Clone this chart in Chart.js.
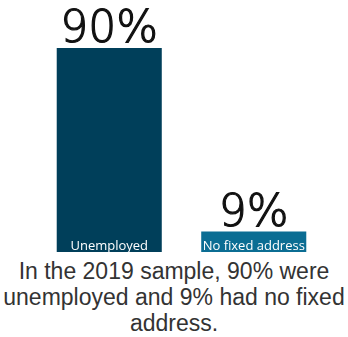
<!DOCTYPE html>
<html>
<head>
<meta charset="utf-8">
<script src="https://cdn.jsdelivr.net/npm/chart.js@4"></script>
<style>
    html, body { margin: 0; padding: 0; background: #fff; }
    #wrap { width: 348px; height: 255px; position: relative; }
    #caption {
        width: 348px;
        text-align: center;
        font-family: "Liberation Sans", Arial, sans-serif;
        font-size: 23px;
        line-height: 26px;
        color: #333;
        margin-top: 3px;
    }
</style>
</head>
<body>
<div id="wrap"><canvas id="chart"></canvas></div>
<div id="caption">In the 2019 sample, 90% were unemployed and 9% had no fixed address.</div>
<script>
const categories = ['Unemployed', 'No fixed address'];
const values = [90, 9];
const barColors = ['#003f5a', '#0b6d93'];

// value above bar, category name inside bar bottom
const labelPlugin = {
    id: 'labels',
    afterDatasetsDraw(chart) {
        const ctx = chart.ctx;
        const meta = chart.getDatasetMeta(0);
        meta.data.forEach((bar, i) => {
            ctx.save();
            ctx.textAlign = 'center';
            ctx.textBaseline = 'alphabetic';
            ctx.fillStyle = '#111';
            ctx.strokeStyle = '#111';
            ctx.lineWidth = 1.2;
            ctx.font = '200 44px "DejaVu Sans"';
            ctx.fillText(values[i] + '%', bar.x, bar.y - 6);
            ctx.strokeText(values[i] + '%', bar.x, bar.y - 6);
            ctx.fillStyle = '#fff';
            ctx.font = '13px "Open Sans"';
            ctx.fillText(categories[i], bar.x, bar.base - 2);
            ctx.restore();
        });
    }
};

new Chart(document.getElementById('chart'), {
    type: 'bar',
    data: {
        labels: categories,
        datasets: [{
            data: values,
            backgroundColor: barColors,
            borderWidth: 0,
            categoryPercentage: 1,
            barPercentage: 0.727
        }]
    },
    options: {
        responsive: true,
        maintainAspectRatio: false,
        animation: false,
        layout: { padding: { left: 37, right: 22, top: 48, bottom: 3 } },
        plugins: {
            legend: { display: false },
            tooltip: { enabled: false }
        },
        scales: {
            x: { display: false },
            y: { display: false, min: 0, max: 90 }
        }
    },
    plugins: [labelPlugin]
});
</script>
</body>
</html>
